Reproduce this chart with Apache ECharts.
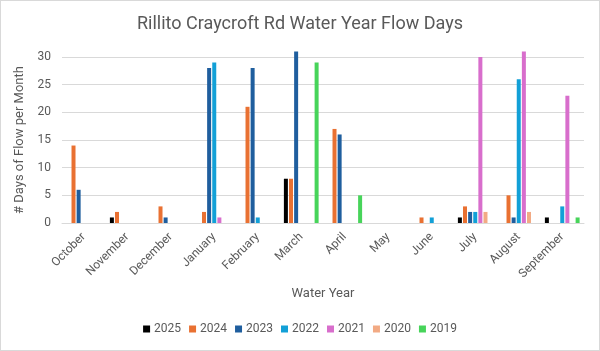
<!DOCTYPE html>
<html><head><meta charset="utf-8">
<script src="https://cdn.jsdelivr.net/npm/echarts@6/dist/echarts.min.js"></script>
<style>
html,body{margin:0;padding:0;background:#fff;}
#c{position:absolute;left:0;top:0;width:598px;height:349px;border:1px solid #d9d9d9;}
</style></head>
<body><div id="c"></div>
<script>
const months = ['October','November','December','January','February','March','April','May','June','July','August','September'];
const years = ['2025','2024','2023','2022','2021','2020','2019'];
const colors = ['#000000','#E97132','#1F5E9E','#12A0D7','#D86ECC','#F2AA84','#47D45A'];
const v2025 = [null,1,null,null,null,8,null,null,null,1,null,1];
const v2024 = [14,2,3,2,21,8,17,null,1,3,5,null];
const v2023 = [6,null,1,28,28,31,16,null,null,2,1,null];
const v2022 = [null,null,null,29,1,null,null,null,1,2,26,3];
const v2021 = [null,null,null,1,null,null,null,null,null,30,31,23];
const v2020 = [null,null,null,null,null,null,null,null,null,2,2,null];
const v2019 = [null,null,null,null,null,29,5,null,null,null,null,1];
const yTicks = [0,5,10,15,20,25,30];
const allVals = [v2025,v2024,v2023,v2022,v2021,v2020,v2019];
const font = 'Roboto, Liberation Sans, sans-serif';
const chart = echarts.init(document.getElementById('c'));
chart.setOption({
  animation:false,
  color: colors,
  title:{text:'Rillito Craycroft Rd Water Year Flow Days',left:'center',top:9,
    textStyle:{fontFamily:font,fontSize:18,fontWeight:'normal',color:'#595959'}},
  grid:{left:61,right:15,top:56,bottom:127},
  legend:{bottom:10,left:'center',itemWidth:7,itemHeight:7,itemGap:8,itemStyle:{borderWidth:0},icon:'rect',
    textStyle:{fontFamily:font,fontSize:12,color:'#595959',padding:[0,0,0,-1]},data:years},
  xAxis:{type:'category',data:months,name:'Water Year',nameLocation:'middle',nameGap:64,
    nameTextStyle:{fontFamily:font,fontSize:13,color:'#595959'},
    axisLine:{show:true,lineStyle:{color:'#d9d9d9'}},axisTick:{show:false},
    axisLabel:{rotate:45,interval:0,fontFamily:font,fontSize:12,color:'#595959',margin:12}},
  yAxis:{type:'value',min:yTicks[0],max:yTicks[yTicks.length-1],interval:5,
    name:'# Days of Flow per Month',nameLocation:'middle',nameGap:33,
    nameTextStyle:{fontFamily:font,fontSize:13,color:'#595959'},
    axisLabel:{fontFamily:font,fontSize:12,color:'#595959',margin:11},
    splitLine:{lineStyle:{color:'#d9d9d9'}}},
  series: years.map((y,i)=>({name:y,type:'bar',data:allVals[i],barWidth:4,barGap:'28%',clip:false,
    itemStyle:{color:colors[i]}}))
});
</script></body></html>
